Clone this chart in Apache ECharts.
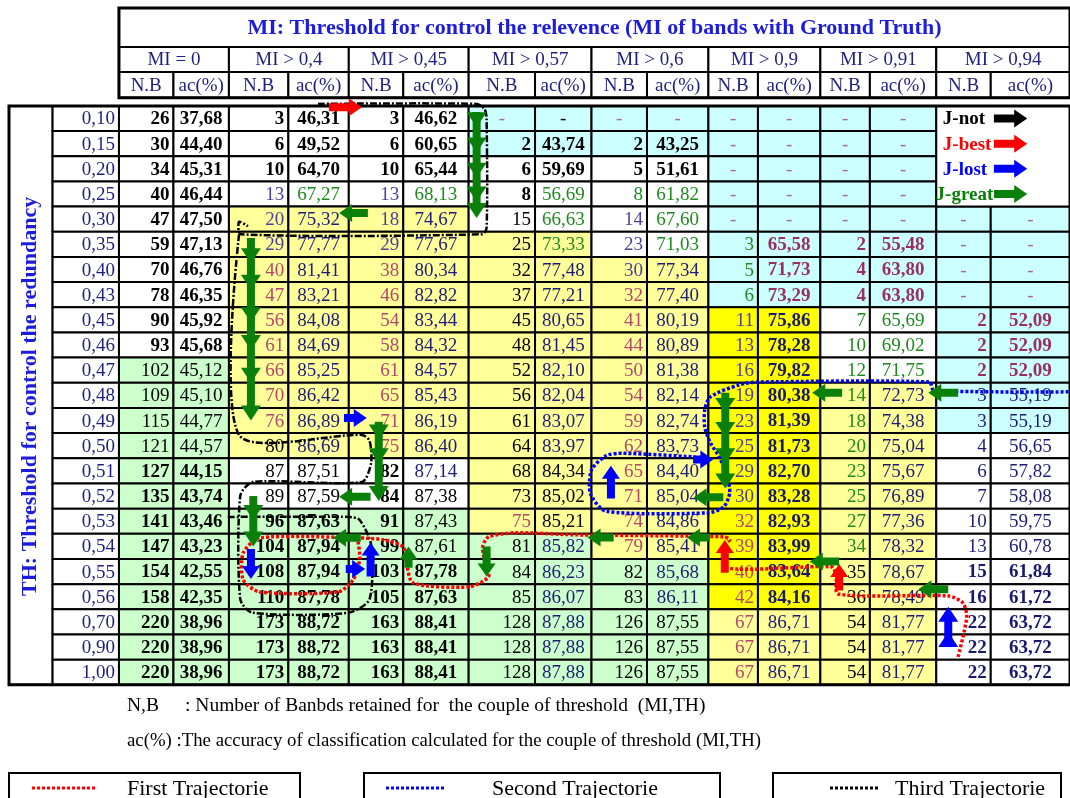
<!DOCTYPE html>
<html>
<head>
<meta charset="utf-8">
<title>MI / TH thresholds</title>
<script src="https://cdn.jsdelivr.net/npm/echarts/dist/echarts.min.js"></script>
<style>
  html, body { margin: 0; padding: 0; background: #ffffff; }
  #chart { width: 1070px; height: 798px; }
</style>
</head>
<body>
<div id="chart"></div>
<script>
// rows = TH threshold, column pairs = MI threshold (N.B, ac%)
var thLabels = ['0,10', '0,15', '0,20', '0,25', '0,30', '0,35', '0,40', '0,43', '0,45', '0,46', '0,47', '0,48',
  '0,49', '0,50', '0,51', '0,52', '0,53', '0,54', '0,55', '0,56', '0,70', '0,90', '1,00'];
var miLabels = ['MI = 0', 'MI > 0,4', 'MI > 0,45', 'MI > 0,57', 'MI > 0,6', 'MI > 0,9', 'MI > 0,91', 'MI > 0,94'];
var subLabels = ['N.B', 'ac(%)'];
var title = 'MI: Threshold for control the relevence (MI of bands with Ground Truth)';
var sideTitle = 'TH: Threshold for control the redundancy';

// null = '-'
var nbMi0 = [26, 30, 34, 40, 47, 59, 70, 78, 90, 93, 102, 109, 115, 121, 127, 135, 141, 147, 154, 158, 220, 220, 220];
var acMi0 = [37.68, 44.40, 45.31, 46.44, 47.50, 47.13, 46.76, 46.35, 45.92, 45.68, 45.12, 45.10, 44.77, 44.57, 44.15,
  43.74, 43.46, 43.23, 42.55, 42.35, 38.96, 38.96, 38.96];
var nbMi040 = [3, 6, 10, 13, 20, 29, 40, 47, 56, 61, 66, 70, 76, 80, 87, 89, 96, 104, 108, 110, 173, 173, 173];
var acMi040 = [46.31, 49.52, 64.70, 67.27, 75.32, 77.77, 81.41, 83.21, 84.08, 84.69, 85.25, 86.42, 86.89, 86.69, 87.51,
  87.59, 87.63, 87.94, 87.94, 87.78, 88.72, 88.72, 88.72];
var nbMi045 = [3, 6, 10, 13, 18, 29, 38, 46, 54, 58, 61, 65, 71, 75, 82, 84, 91, 99, 103, 105, 163, 163, 163];
var acMi045 = [46.62, 60.65, 65.44, 68.13, 74.67, 77.67, 80.34, 82.82, 83.44, 84.32, 84.57, 85.43, 86.19, 86.40, 87.14,
  87.38, 87.43, 87.61, 87.78, 87.63, 88.41, 88.41, 88.41];
var nbMi057 = [null, 2, 6, 8, 15, 25, 32, 37, 45, 48, 52, 56, 61, 64, 68, 73, 75, 81, 84, 85, 128, 128, 128];
var acMi057 = [null, 43.74, 59.69, 56.69, 66.63, 73.33, 77.48, 77.21, 80.65, 81.45, 82.10, 82.04, 83.07, 83.97, 84.34,
  85.02, 85.21, 85.82, 86.23, 86.07, 87.88, 87.88, 87.88];
var nbMi060 = [null, 2, 5, 8, 14, 23, 30, 32, 41, 44, 50, 54, 59, 62, 65, 71, 74, 79, 82, 83, 126, 126, 126];
var acMi060 = [null, 43.25, 51.61, 61.82, 67.60, 71.03, 77.34, 77.40, 80.19, 80.89, 81.38, 82.14, 82.74, 83.73, 84.40,
  85.04, 84.86, 85.41, 85.68, 86.11, 87.55, 87.55, 87.55];
var nbMi090 = [null, null, null, null, null, 3, 5, 6, 11, 13, 16, 19, 23, 25, 29, 30, 32, 39, 40, 42, 67, 67, 67];
var acMi090 = [null, null, null, null, null, 65.58, 71.73, 73.29, 75.86, 78.28, 79.82, 80.38, 81.39, 81.73, 82.70,
  83.28, 82.93, 83.99, 83.64, 84.16, 86.71, 86.71, 86.71];
var nbMi091 = [null, null, null, null, null, 2, 4, 4, 7, 10, 12, 14, 18, 20, 23, 25, 27, 34, 35, 36, 54, 54, 54];
var acMi091 = [null, null, null, null, null, 55.48, 63.80, 63.80, 65.69, 69.02, 71.75, 72.73, 74.38, 75.04, 75.67,
  76.89, 77.36, 78.32, 78.67, 78.49, 81.77, 81.77, 81.77];
var nbMi094 = [null, null, null, null, null, null, null, null, 2, 2, 2, 3, 3, 4, 6, 7, 10, 13, 15, 16, 22, 22, 22];
var acMi094 = [null, null, null, null, null, null, null, null, 52.09, 52.09, 52.09, 55.19, 55.19, 56.65, 57.82, 58.08,
  59.75, 60.78, 61.84, 61.72, 63.72, 63.72, 63.72];

var nbCols = [nbMi0, nbMi040, nbMi045, nbMi057, nbMi060, nbMi090, nbMi091, nbMi094];
var acCols = [acMi0, acMi040, acMi045, acMi057, acMi060, acMi090, acMi091, acMi094];

// cell shading per row (W white, C cyan, Y yellow, S strong yellow, G green, . key box)
var cellFill = [
  'WWWWWWCCCCCCCC..', 'WWWWWWCCCCCCCC..', 'WWWWWWWWWWCCCC..', 'WWWWWWWWWWCCCC..',
  'WWYYYYWWWWCCCCCC', 'WWYYYYYYWWCCCCCC', 'WWYYYYYYYYCCCCCC', 'WWYYYYYYYYCCCCCC',
  'WWYYYYYYYYSSWWCC', 'WWYYYYYYYYSSWWCC', 'GGYYYYYYYYSSWWCC', 'GGYYYYYYYYSSYYCC',
  'GGYYYYYYYYSSYYCC', 'GGYYYYYYYYSSYYWW', 'GGWWWWYYYYSSYYWW', 'GGWWWWYYYYSSYYWW',
  'GGGGGGYYYYSSYYWW', 'GGGGGGGGYYSSYYWW', 'GGGGGGGGGGSSYYWW', 'GGGGGGGGGGSSYYWW',
  'GGGGGGGGGGYYYYWW', 'GGGGGGGGGGYYYYWW', 'GGGGGGGGGGYYYYWW'
];
// text ink per cell
var cellInk = [
  'KKKKKKDkDDDDDD..', 'KKKKKKKKKKDDDD..', 'KKKKKKKKKKDDDD..', 'KKPGPGKGGGDDDD..',
  'KKPBPBkGPGDDDDDD', 'KKPBPBkGPGGMMMDD', 'KKRBRBkBPBGMMMDD', 'KKRBRBkBRBGMMMDD',
  'KKRBRBkBRBPNGGMM', 'KKRBRBkBRBPNGGMM', 'kkRBRBkBRBPNGGMM', 'kkRBRBkBRBPNGBBB',
  'kkRBRBkBRBPNGBBB', 'kkkBRBkBRBPNGBBB', 'KKkkKBkkRBPNGBBB', 'KKkkKkkkRBPNGBBB',
  'KKKKKkRkRBRNGBBB', 'KKKKKkkBRBRNGBBB', 'KKKKKKkBkBRNkBNN', 'KKKKKKkBkBRNkBNN',
  'KKKKKKkBkkRBkBNN', 'KKKKKKkBkkRBkBNN', 'KKKKKKkBkkRBkBNN'
];

// annotations, in [column, row] cell units
var trajFirst = [[14.4, 21.89], [14.56, 20.3], [14.49, 19.75], [14.23, 19.47], [12.36, 19.39], [12.32, 18.63],
  [12.22, 18.31], [10.37, 18.35], [10.33, 17.44], [10.43, 17.24], [10.31, 17.12], [7.7, 17.04], [6.7, 16.96],
  [6.3, 17.12], [6.21, 17.52], [6.25, 18.16], [6.3, 18.71], [6.0, 19.11], [5.15, 18.95], [5.05, 18.16],
  [5.0, 17.52], [4.64, 17.24], [4.16, 17.16], [2.52, 17.16], [2.24, 17.76], [2.24, 18.83], [2.52, 19.31],
  [3.82, 19.31], [4.08, 18.83], [4.2, 18.0], [4.16, 17.16]];
var trajSecond = [[15.98, 11.36], [13.96, 11.3], [13.9, 10.97], [11.0, 10.97], [10.62, 11.08], [10.04, 11.56],
  [9.94, 12.08], [9.94, 12.75], [10.04, 13.39], [10.22, 13.95], [10.38, 14.74], [10.43, 15.38], [10.31, 15.93],
  [9.99, 16.17], [8.26, 16.1], [7.98, 15.4], [8.0, 14.46], [8.26, 13.9], [8.55, 13.8], [9.79, 13.95]];
var trajThirdTop = [[3.49, -0.08], [6.12, -0.08], [6.24, 0.12], [6.27, 0.5], [6.27, 4.85], [6.2, 5.1],
  [2.2, 5.1], [2.17, 4.6], [2.32, 4.78]];
var trajThirdLow = [[2.17, 5.1], [2.17, 13.07], [4.24, 13.07], [4.38, 13.3], [4.41, 14.18], [4.24, 14.94],
  [2.4, 14.94], [2.19, 15.5], [2.19, 19.6], [2.4, 20.14], [3.99, 20.14], [4.38, 19.6], [4.41, 17.44],
  [4.2, 16.45], [4.0, 16.33], [1.98, 16.33]];

var RED = '#ff0000', BLUE = '#0000ff', GREEN = '#0a800a', BLACK = '#000000';
var jumps = [
  [RED, [3.67, 0.05], [4.24, 0.05]], [RED, [12.38, 19.25], [12.38, 18.2]], [RED, [10.33, 18.55], [10.33, 17.25]],
  [BLUE, [3.92, 12.4], [4.33, 12.4]], [BLUE, [2.37, 17.6], [2.37, 18.8]], [BLUE, [3.95, 18.4], [4.3, 18.4]],
  [BLUE, [4.4, 18.7], [4.4, 17.35]], [BLUE, [8.35, 15.6], [8.35, 14.3]], [BLUE, [9.75, 14.05], [10.1, 14.05]],
  [GREEN, [4.35, 4.25], [3.84, 4.25]], [GREEN, [4.4, 15.53], [3.84, 15.53]], [GREEN, [4.22, 17.16], [3.74, 17.16]],
  [GREEN, [5.08, 18.35], [5.08, 17.5]], [GREEN, [6.27, 17.5], [6.27, 18.7]], [GREEN, [8.4, 17.15], [7.93, 17.15]],
  [GREEN, [10.03, 17.15], [9.65, 17.15]], [GREEN, [12.38, 18.1], [11.83, 18.1]], [GREEN, [14.22, 19.2], [13.73, 19.2]],
  [GREEN, [12.44, 11.4], [11.87, 11.4]], [GREEN, [14.4, 11.4], [13.88, 11.4]], [GREEN, [10.3, 15.55], [9.76, 15.55]]
];
// column, start row, arrow head rows
var stacks = [
  [GREEN, 6.12, 0.24, [0.85, 1.85, 2.85, 3.8, 4.45]],
  [GREEN, 2.37, 5.25, [6.25, 7.3, 8.6, 9.7, 11.0, 12.5]],
  [GREEN, 4.55, 12.55, [13.25, 14.2, 15.7]],
  [GREEN, 2.41, 15.5, [16.45, 17.5]],
  [GREEN, 10.34, 11.4, [12.2, 13.15, 14.2, 15.2]],
  [BLUE, 14.22, 21.5, [20.9, 19.9]]
];
var keyNames = ['J-not', 'J-best', 'J-lost', 'J-great'];
var keyColors = [BLACK, RED, BLUE, GREEN];

// ---- layout ----
var colW = [44, 67, 55, 56, 60, 61, 55, 66, 67, 57, 56, 62, 50, 63, 50, 67, 55, 80];
var colX = [0];
for (var i = 0; i < colW.length; i++) colX.push(colX[i] + colW[i]);
var tableW = colX[colX.length - 1];
var hdrY = [-3.89, -2.34, -1.35, -0.32];
var rowH = 25.17;
var nRows = thLabels.length;

var SERIF = '"Liberation Serif", "Times New Roman", serif';
var fills = {W: '#ffffff', C: '#ccffff', Y: '#ffff99', S: '#ffff00', G: '#ccffcc'};
var inks = {
  K: ['#000000', 'bold'], k: ['#000000', 'normal'], P: ['#4e3f9c', 'normal'], R: ['#b3476d', 'normal'],
  B: ['#1c1c78', 'normal'], G: ['#1e8a1e', 'normal'], M: ['#98305e', 'bold'], N: ['#18186c', 'bold'],
  D: ['#a86a84', 'normal']
};

function xOf(c) {
  var i = Math.floor(c), li = i + 2;
  if (li >= colW.length) return tableW;
  return colX[li] + (c - i) * colW[li];
}
function fmtAc(v) { return v.toFixed(2).replace('.', ','); }

var cells = [];
function addCell(x0, x1, y0, y1, o) {
  o = o || {};
  o.x0 = x0; o.x1 = x1; o.y0 = y0; o.y1 = y1;
  cells.push(o);
}

// header
addCell(colX[2], tableW, hdrY[0], hdrY[1], {text: title, color: '#1c1cdc', font: 'bold 22px ' + SERIF, align: 'center'});
miLabels.forEach(function (lab, g) {
  addCell(colX[2 + 2 * g], colX[4 + 2 * g], hdrY[1], hdrY[2], {text: lab, color: '#1e1e80', font: '19px ' + SERIF, align: 'center'});
  subLabels.forEach(function (s, k) {
    addCell(colX[2 + 2 * g + k], colX[3 + 2 * g + k], hdrY[2], hdrY[3], {text: s, color: '#1e1e80', font: '19px ' + SERIF, align: 'center'});
  });
});

// side title and row labels
addCell(colX[0], colX[1], 0, nRows, {text: sideTitle, color: '#1c1cdc', font: 'bold 22px ' + SERIF, align: 'center', rot: Math.PI / 2});
thLabels.forEach(function (lab, r) {
  addCell(colX[1], colX[2], r, r + 1, {text: lab, color: '#1e1e80', font: '19px ' + SERIF, align: 'right'});
});

// body
for (var r = 0; r < nRows; r++) {
  for (var g = 0; g < 8; g++) {
    for (var k = 0; k < 2; k++) {
      var c = 2 * g + k;
      var f = cellFill[r][c];
      if (f === '.') continue;
      var v = (k === 0 ? nbCols[g] : acCols[g])[r];
      var ink = inks[cellInk[r][c]];
      addCell(colX[c + 2], colX[c + 3], r, r + 1, {
        fill: fills[f],
        text: v == null ? '-' : (k === 0 ? String(v) : fmtAc(v)),
        color: ink[0],
        font: ink[1] + ' 19px ' + SERIF,
        align: v == null ? 'center' : (k === 0 ? 'right' : 'center')
      });
    }
  }
}
// key box (merged)
addCell(colX[16], tableW, 0, 4, {fill: '#ffffff'});
// outer frames
addCell(colX[2], tableW, hdrY[0], hdrY[3], {fill: 'none', lw: 3});
addCell(colX[0], tableW, 0, nRows, {fill: 'none', lw: 3});

function renderCell(params, api) {
  var c = cells[params.dataIndex];
  var p0 = api.coord([c.x0, c.y0]), p1 = api.coord([c.x1, c.y1]);
  var kids = [{
    type: 'rect',
    shape: {x: p0[0], y: p0[1], width: p1[0] - p0[0], height: p1[1] - p0[1]},
    style: {fill: c.fill || '#ffffff', stroke: '#000000', lineWidth: c.lw || 2}
  }];
  if (c.fill === 'none') kids[0].style.fill = null;
  if (c.text) {
    var tx = c.align === 'right' ? p1[0] - 4 : (p0[0] + p1[0]) / 2;
    var ty = (p0[1] + p1[1]) / 2 + 1;
    kids.push({
      type: 'text', x: tx, y: ty, rotation: c.rot || 0,
      style: {
        text: c.text, x: 0, y: 0, fill: c.color, font: c.font,
        align: c.align, verticalAlign: 'middle', textAlign: c.align, textVerticalAlign: 'middle'
      }
    });
  }
  return {type: 'group', children: kids};
}

// annotation items
var annots = [];
annots.push({kind: 'path', pts: trajThirdTop, color: BLACK, width: 2.5, dash: [7, 2, 2, 2]});
annots.push({kind: 'path', pts: trajThirdLow, color: BLACK, width: 2.5, dash: [7, 2, 2, 2]});
annots.push({kind: 'path', pts: trajSecond, color: BLUE, width: 3.5, dash: [3, 2]});
annots.push({kind: 'path', pts: trajFirst, color: RED, width: 3.5, dash: [3, 2]});
jumps.forEach(function (j) { annots.push({kind: 'arrow', color: j[0], from: j[1], to: j[2]}); });
stacks.forEach(function (s) { annots.push({kind: 'stack', color: s[0], c: s[1], from: s[2], heads: s[3]}); });
keyNames.forEach(function (n, i) {
  annots.push({kind: 'text', text: n, color: keyColors[i], c: i === 3 ? 13.99 : 14.12, r: i + 0.5});
  annots.push({kind: 'arrow', color: keyColors[i], from: [15.04, i + 0.5], to: [15.46, i + 0.5]});
});

function arrowPts(p0, p1, t, hw, hl) {
  var dx = p1[0] - p0[0], dy = p1[1] - p0[1];
  var L = Math.sqrt(dx * dx + dy * dy), ux = dx / L, uy = dy / L;
  function pt(u, w) { return [p0[0] + u * ux - w * uy, p0[1] + u * uy + w * ux]; }
  var b = Math.max(L - hl, 0);
  return [pt(0, -t), pt(b, -t), pt(b, -hw), pt(L, 0), pt(b, hw), pt(b, t), pt(0, t)];
}

function renderAnnot(params, api) {
  var a = annots[params.dataIndex];
  function P(c, r) { return api.coord([xOf(c), r]); }
  if (a.kind === 'path') {
    return {
      type: 'polyline',
      shape: {points: a.pts.map(function (p) { return P(p[0], p[1]); }), smooth: 0.25},
      style: {stroke: a.color, lineWidth: a.width, lineDash: a.dash, fill: null}
    };
  }
  if (a.kind === 'arrow') {
    return {type: 'polygon', shape: {points: arrowPts(P(a.from[0], a.from[1]), P(a.to[0], a.to[1]), 4, 9, 13)}, style: {fill: a.color}};
  }
  if (a.kind === 'stack') {
    var s0 = P(a.c, a.from), last = P(a.c, a.heads[a.heads.length - 1]);
    var dir = last[1] > s0[1] ? 1 : -1;
    var kids = [{type: 'rect', shape: {x: s0[0] - 4, y: Math.min(s0[1], last[1] - dir * 8), width: 8,
      height: Math.abs(last[1] - dir * 8 - s0[1])}, style: {fill: a.color}}];
    a.heads.forEach(function (h) {
      var tip = P(a.c, h);
      kids.push({type: 'polygon', shape: {points: [[tip[0] - 10, tip[1] - dir * 15], [tip[0] + 10, tip[1] - dir * 15], tip]},
        style: {fill: a.color}});
    });
    return {type: 'group', children: kids};
  }
  var p = P(a.c, a.r);
  return {type: 'text', x: p[0], y: p[1] + 1, style: {text: a.text, x: 0, y: 0, fill: a.color,
    font: 'bold 19px ' + SERIF, align: 'left', verticalAlign: 'middle', textAlign: 'left', textVerticalAlign: 'middle'}};
}

var noteFont = '19.5px ' + SERIF;
var noteFont2 = '18.8px ' + SERIF;
var boxFont = '22px ' + SERIF;
var chart = echarts.init(document.getElementById('chart'));
chart.setOption({
  animation: false,
  backgroundColor: '#ffffff',
  grid: {left: 9, top: 8, width: tableW, height: (nRows - hdrY[0]) * rowH},
  xAxis: {type: 'value', min: 0, max: tableW, show: false},
  yAxis: {type: 'value', min: hdrY[0], max: nRows, inverse: true, show: false},
  series: [
    {type: 'custom', coordinateSystem: 'cartesian2d', renderItem: renderCell, silent: true, clip: false,
      data: cells.map(function (c) { return [c.x0, c.y0]; })},
    {type: 'custom', coordinateSystem: 'cartesian2d', renderItem: renderAnnot, silent: true, clip: false, z: 5,
      data: annots.map(function (a, i) { return [0, 0, i]; })}
  ],
  graphic: [
    {type: 'text', x: 127, y: 706, style: {text: 'N,B', font: noteFont, fill: '#000', textVerticalAlign: 'middle'}},
    {type: 'text', x: 185, y: 706, style: {text: ': Number of Banbds retained for  the couple of threshold  (MI,TH)', font: noteFont, fill: '#000', textVerticalAlign: 'middle'}},
    {type: 'text', x: 127, y: 741, style: {text: 'ac(%) :The accuracy of classification calculated for the couple of threshold (MI,TH)', font: noteFont2, fill: '#000', textVerticalAlign: 'middle'}},
    {type: 'rect', shape: {x: 9, y: 773, width: 291, height: 40}, style: {fill: '#fff', stroke: '#000', lineWidth: 2}},
    {type: 'line', shape: {x1: 32, y1: 788, x2: 97, y2: 788}, style: {stroke: RED, lineWidth: 3, lineDash: [3, 2]}},
    {type: 'text', x: 127, y: 789, style: {text: 'First Trajectorie', font: boxFont, fill: '#000', textVerticalAlign: 'middle'}},
    {type: 'rect', shape: {x: 364, y: 773, width: 356, height: 40}, style: {fill: '#fff', stroke: '#000', lineWidth: 2}},
    {type: 'line', shape: {x1: 386, y1: 788, x2: 446, y2: 788}, style: {stroke: BLUE, lineWidth: 3, lineDash: [3, 2]}},
    {type: 'text', x: 492, y: 789, style: {text: 'Second Trajectorie', font: boxFont, fill: '#000', textVerticalAlign: 'middle'}},
    {type: 'rect', shape: {x: 773, y: 773, width: 288, height: 40}, style: {fill: '#fff', stroke: '#000', lineWidth: 2}},
    {type: 'line', shape: {x1: 830, y1: 788, x2: 880, y2: 788}, style: {stroke: BLACK, lineWidth: 3, lineDash: [3, 2]}},
    {type: 'text', x: 895, y: 789, style: {text: 'Third Trajectorie', font: boxFont, fill: '#000', textVerticalAlign: 'middle'}}
  ]
});
</script>
</body>
</html>
